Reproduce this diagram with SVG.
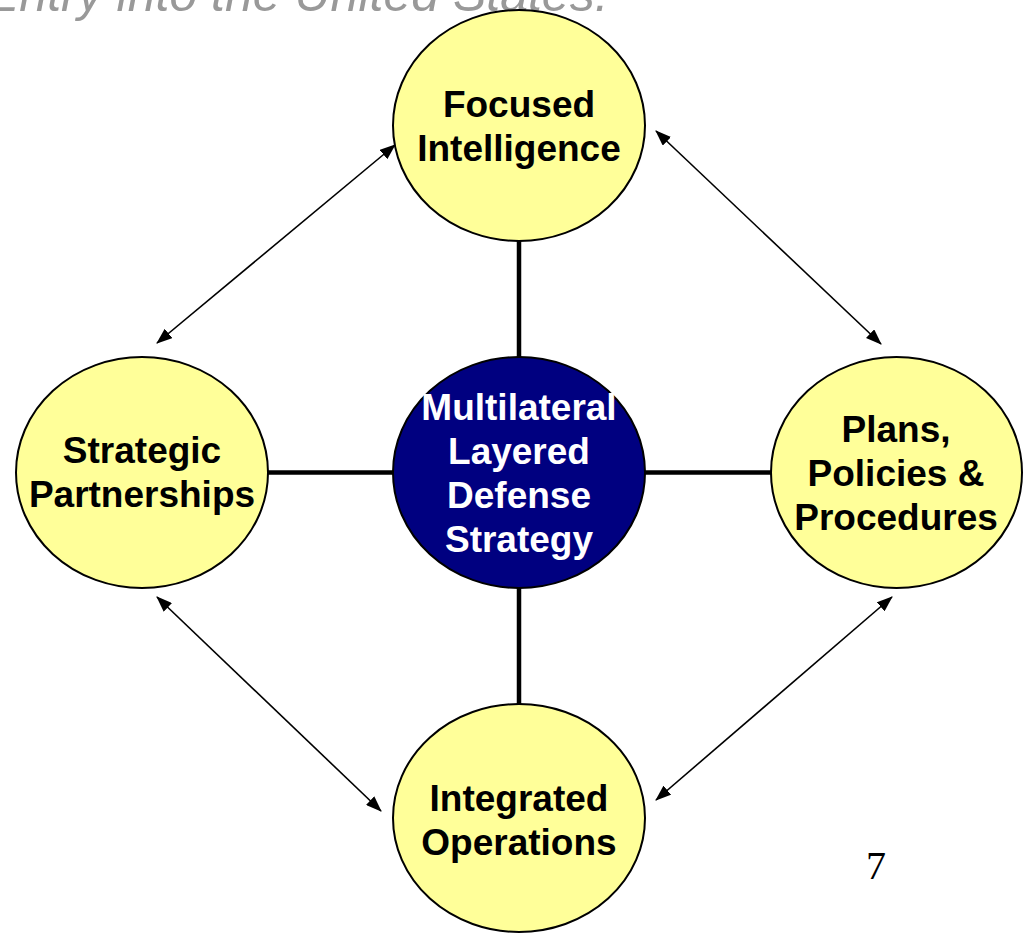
<svg xmlns="http://www.w3.org/2000/svg" width="1024" height="933" viewBox="0 0 1024 933">
<style>
.node{fill:#FFFF99;stroke:#000;stroke-width:2}
.core{fill:#000080;stroke:#000;stroke-width:2}
.lbl{font-family:"Liberation Sans",Arial,sans-serif;font-weight:bold;font-size:37px;text-anchor:middle;fill:#000}
.lblw{fill:#fff}
.link{stroke:#000;stroke-width:4.5;fill:none}
.arr{stroke:#000;stroke-width:1.6;fill:none;marker-start:url(#ah);marker-end:url(#ah)}
</style>
<defs>
<marker id="ah" viewBox="0 0 16 12" refX="15" refY="6" markerWidth="16" markerHeight="12" markerUnits="userSpaceOnUse" orient="auto-start-reverse">
<path d="M0,0 L16,6 L0,12 Z" fill="#000"/>
</marker>
</defs>
<text x="-14" y="11" font-family="Liberation Sans,Arial,sans-serif" font-style="italic" font-size="50" fill="#999999">Entry into the United States.</text>
<g id="connectors">
<line class="link" x1="519" y1="241" x2="519" y2="357"/>
<line class="link" x1="519" y1="588" x2="519" y2="704"/>
<line class="link" x1="268" y1="472.5" x2="393" y2="472.5"/>
<line class="link" x1="645" y1="472.5" x2="771" y2="472.5"/>
<line class="arr" x1="395" y1="145" x2="157" y2="343"/>
<line class="arr" x1="656" y1="131" x2="881" y2="344"/>
<line class="arr" x1="157" y1="597" x2="381" y2="811"/>
<line class="arr" x1="892" y1="597" x2="656" y2="800"/>
</g>
<g id="focused">
<ellipse class="node" cx="519" cy="125.5" rx="126" ry="115.5"/>
<text class="lbl" x="519" y="117">Focused</text>
<text class="lbl" x="519" y="161">Intelligence</text>
</g>
<g id="center">
<ellipse class="core" cx="519" cy="472.5" rx="126" ry="115.5"/>
<text class="lbl lblw" x="519" y="420">Multilateral</text>
<text class="lbl lblw" x="519" y="464">Layered</text>
<text class="lbl lblw" x="519" y="508">Defense</text>
<text class="lbl lblw" x="519" y="552">Strategy</text>
</g>
<g id="strategic">
<ellipse class="node" cx="142" cy="472.5" rx="126" ry="115.5"/>
<text class="lbl" x="142" y="463">Strategic</text>
<text class="lbl" x="142" y="507">Partnerships</text>
</g>
<g id="plans">
<ellipse class="node" cx="896.5" cy="472.5" rx="125.5" ry="115.5"/>
<text class="lbl" x="896" y="442">Plans,</text>
<text class="lbl" x="896" y="486">Policies &amp;</text>
<text class="lbl" x="896" y="530">Procedures</text>
</g>
<g id="integrated">
<ellipse class="node" cx="519" cy="818" rx="126" ry="114"/>
<text class="lbl" x="519" y="811">Integrated</text>
<text class="lbl" x="519" y="855">Operations</text>
</g>
<text x="876" y="879" font-family="Liberation Serif,Times New Roman,serif" font-size="40" text-anchor="middle" fill="#000">7</text>
</svg>
